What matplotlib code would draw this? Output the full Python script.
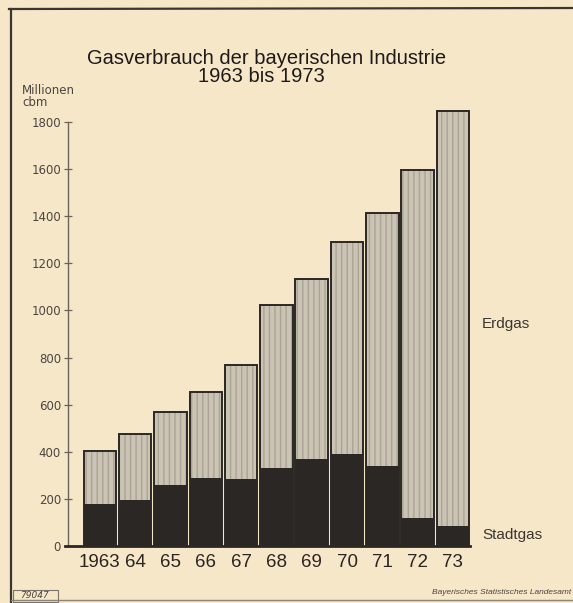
import matplotlib
matplotlib.use("Agg")
import matplotlib.pyplot as plt
from matplotlib.lines import Line2D
from matplotlib.patches import Rectangle
import numpy as np

years = ["1963", "64", "65", "66", "67", "68", "69", "70", "71", "72", "73"]
stadtgas = [180, 195, 260, 290, 285, 330, 370, 390, 340, 120, 85]
erdgas = [225, 280, 310, 365, 485, 695, 765, 900, 1075, 1475, 1760]
yticks = [0, 200, 400, 600, 800, 1000, 1200, 1400, 1600, 1800]

bg = "#f6e7c9"
dark = "#2b2725"
light = "#cbc3b4"

fig = plt.figure(figsize=(5.73, 6.03), dpi=100, facecolor=bg)
ax = fig.add_axes([0.1134, 0.0945, 0.7072, 0.7227])
ax.set_facecolor(bg)

x = np.arange(len(years))
total = np.array(stadtgas) + np.array(erdgas)
w = 0.92

# Erdgas with fine vertical stripes, then Stadtgas, then outline of whole bar
ax.bar(x, erdgas, w, bottom=stadtgas, color=light, edgecolor="#aba394",
       hatch="|||", linewidth=0, zorder=2)
ax.bar(x, stadtgas, w, color=dark, linewidth=0, zorder=3)
ax.bar(x, total, w, fill=False, edgecolor=dark, linewidth=1.4, zorder=4)

ax.set_xlim(-0.99, 10.49)
ax.set_ylim(0, 1850)

for s in ["top", "right"]:
    ax.spines[s].set_visible(False)
ax.spines["left"].set_position(("data", -0.905))
ax.spines["left"].set_bounds(0, 1800)
ax.spines["left"].set_color("#6a645c")
ax.spines["left"].set_linewidth(1.0)
ax.spines["bottom"].set_color(dark)
ax.spines["bottom"].set_linewidth(2.0)
ax.spines["bottom"].set_zorder(5)

ax.set_yticks(yticks)
ax.set_yticklabels([str(v) for v in yticks], fontsize=8.5, color="#4a4540",
                   family="DejaVu Sans")
ax.tick_params(axis="y", direction="inout", length=6, width=0.9,
               color="#6a645c", pad=2)

ax.set_xticks(x)
ax.set_xticklabels(years, fontsize=13.5, color="#2a2522",
                   family="Liberation Sans")
ax.tick_params(axis="x", length=0, pad=6)

# titles and labels
fig.text(0.466, 1 - 59 / 603, "Gasverbrauch der bayerischen Industrie",
         ha="center", va="center", fontsize=14.5, color="#1e1a18",
         family="Liberation Sans")
fig.text(0.456, 1 - 77 / 603, "1963 bis 1973", ha="center", va="center",
         fontsize=14.5, color="#1e1a18", family="Liberation Sans")
fig.text(22 / 573, 1 - 90 / 603, "Millionen", ha="left", va="center",
         fontsize=8.5, color="#4a4540")
fig.text(22 / 573, 1 - 103 / 603, "cbm", ha="left", va="center",
         fontsize=8.5, color="#4a4540")
fig.text(482 / 573, 1 - 324 / 603, "Erdgas", ha="left", va="center",
         fontsize=11, color="#3a3530", family="Liberation Sans")
fig.text(482 / 573, 1 - 535 / 603, "Stadtgas", ha="left", va="center",
         fontsize=11, color="#3a3530", family="Liberation Sans")
fig.text(571 / 573, 1 - 593 / 603, "Bayerisches Statistisches Landesamt",
         ha="right", va="center", fontsize=6, style="italic",
         color="#4a4540", family="Liberation Sans")
fig.text(35 / 573, 1 - 596 / 603, "79047", ha="center", va="center",
         fontsize=6.5, style="italic", color="#4a4540")

# page frame
frame = "#3a3632"
fig.add_artist(Line2D([11 / 573, 11 / 573], [0, 1 - 9 / 603],
                      transform=fig.transFigure, color=frame, linewidth=1.6))
fig.add_artist(Line2D([9 / 573, 1], [1 - 9 / 603, 1 - 8 / 603],
                      transform=fig.transFigure, color=frame, linewidth=1.6))
fig.add_artist(Line2D([11 / 573, 1], [1 - 600 / 603, 1 - 600 / 603],
                      transform=fig.transFigure, color="#8a847a", linewidth=1.0))
fig.add_artist(Rectangle((13 / 573, 1 - 602 / 603), 45 / 573, 12 / 603,
                         transform=fig.transFigure, fill=False,
                         edgecolor="#7a746a", linewidth=0.8))

fig.savefig("out.png", dpi=100, facecolor=bg)
